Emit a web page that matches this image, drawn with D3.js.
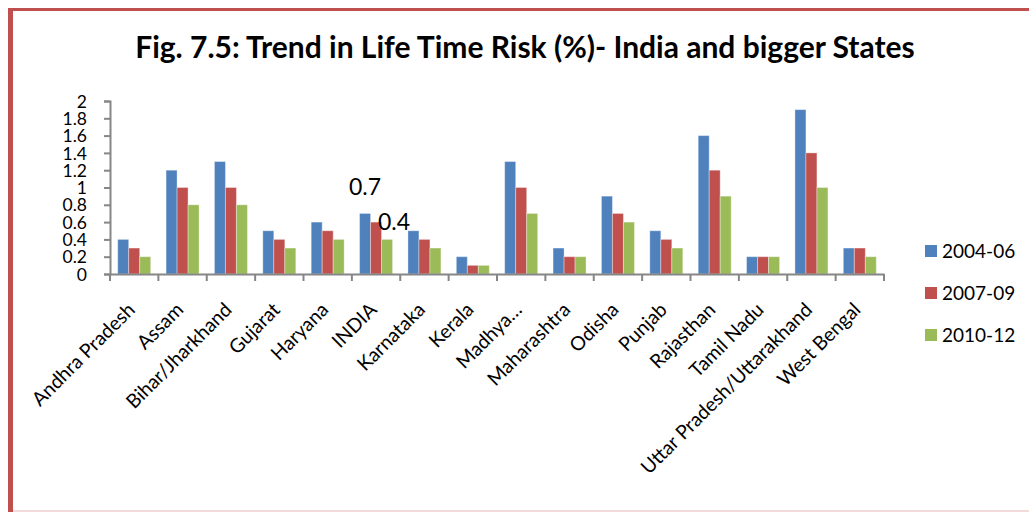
<!DOCTYPE html>
<html>
<head>
<meta charset="utf-8">
<script src="https://cdn.jsdelivr.net/npm/d3@7"></script>
<style>
  body { margin: 0; background: #fff; }
  text { font-family: Lato, "Open Sans", sans-serif; fill: #000; }
</style>
</head>
<body>
<script>
var w = 1029;
var h = 512;

var categories = ["Andhra Pradesh", "Assam", "Bihar/Jharkhand", "Gujarat", "Haryana", "INDIA",
  "Karnataka", "Kerala", "Madhya…", "Maharashtra", "Odisha", "Punjab", "Rajasthan",
  "Tamil Nadu", "Uttar Pradesh/Uttarakhand", "West Bengal"];
var seriesNames = ["2004-06", "2007-09", "2010-12"];
var s2004 = [0.4, 1.2, 1.3, 0.5, 0.6, 0.7, 0.5, 0.2, 1.3, 0.3, 0.9, 0.5, 1.6, 0.2, 1.9, 0.3];
var s2007 = [0.3, 1.0, 1.0, 0.4, 0.5, 0.6, 0.4, 0.1, 1.0, 0.2, 0.7, 0.4, 1.2, 0.2, 1.4, 0.3];
var s2010 = [0.2, 0.8, 0.8, 0.3, 0.4, 0.4, 0.3, 0.1, 0.7, 0.2, 0.6, 0.3, 0.9, 0.2, 1.0, 0.2];
var yTicks = [0, 0.2, 0.4, 0.6, 0.8, 1, 1.2, 1.4, 1.6, 1.8, 2];
// stray data labels on the INDIA group
var dataLabels = [{cat: "INDIA", series: 0, value: 0.7}, {cat: "INDIA", series: 2, value: 0.4}];

var colors = ["#4F81BD", "#C0504D", "#9BBB59"];
var allSeries = [s2004, s2007, s2010];

var svg = d3.select("body")
  .append("svg")
  .attr("width", w)
  .attr("height", h);

// frame
svg.append("rect").attr("x", 0).attr("y", 0).attr("width", w).attr("height", h).attr("fill", "#fff");
svg.append("line").attr("x1", 8).attr("x2", w).attr("y1", 9.5).attr("y2", 9.5)
  .attr("stroke", "#C0504D").attr("stroke-width", 3);
svg.append("line").attr("x1", 10.5).attr("x2", 10.5).attr("y1", 8).attr("y2", h)
  .attr("stroke", "#C0504D").attr("stroke-width", 5);
svg.append("line").attr("x1", 13).attr("x2", w).attr("y1", 511).attr("y2", 511)
  .attr("stroke", "#F2DCDB").attr("stroke-width", 2);

svg.append("text")
  .attr("x", 525)
  .attr("y", 58)
  .attr("text-anchor", "middle")
  .style("font-size", "30px")
  .style("font-weight", "bold")
  .text("Fig. 7.5: Trend in Life Time Risk (%)- India and bigger States");

var x = d3.scaleBand().domain(categories).range([110, 884]).paddingInner(0).paddingOuter(0);
var x1 = d3.scaleBand().domain(d3.range(3)).range([0, x.bandwidth()]).paddingInner(0).paddingOuter(0.7);
var y = d3.scaleLinear().domain([0, 2]).range([274, 101]);

var groups = svg.selectAll("g.grp")
  .data(categories)
  .enter()
  .append("g")
  .attr("class", "grp")
  .attr("transform", function(d) { return "translate(" + x(d) + ",0)"; });

groups.selectAll("rect")
  .data(function(d, i) { return allSeries.map(function(s, j) { return {s: j, v: s[i]}; }); })
  .enter()
  .append("rect")
  .attr("x", function(d) { return x1(d.s); })
  .attr("width", x1.bandwidth())
  .attr("y", function(d) { return y(d.v); })
  .attr("height", function(d) { return y(0) - y(d.v); })
  .attr("fill", function(d) { return colors[d.s]; })
  .attr("stroke", "#fff")
  .attr("stroke-opacity", 0.35)
  .attr("stroke-width", 1);

// y axis
var yAxis = svg.append("g")
  .attr("transform", "translate(110,0)")
  .call(d3.axisLeft(y).tickValues(yTicks).tickSize(6).tickPadding(17).tickFormat(d3.format("")));
yAxis.selectAll("text").style("font-size", "17.5px").attr("dy", "0.35em");

// x axis
var xAxis = svg.append("g")
  .attr("transform", "translate(0,274)")
  .call(d3.axisBottom(x).tickSize(0).tickFormat(""));
xAxis.selectAll(".tick").remove();
xAxis.selectAll("line.bound")
  .data(categories.concat([null]))
  .enter()
  .append("line")
  .attr("class", "bound")
  .attr("x1", function(d, i) { return 110 + i * x.step(); })
  .attr("x2", function(d, i) { return 110 + i * x.step(); })
  .attr("y1", 0)
  .attr("y2", 7);

svg.selectAll(".domain, .tick line, line.bound")
  .attr("stroke", "#868686")
  .attr("stroke-width", 2);

svg.selectAll("text.xlab")
  .data(categories)
  .enter()
  .append("text")
  .attr("class", "xlab")
  .attr("text-anchor", "end")
  .style("font-size", "19.5px")
  .attr("transform", function(d) {
    return "translate(" + (x(d) + x.bandwidth() / 2 + 2) + ",311) rotate(-45)";
  })
  .text(function(d) { return d; });

// data labels
svg.selectAll("text.dlab")
  .data(dataLabels)
  .enter()
  .append("text")
  .attr("class", "dlab")
  .attr("text-anchor", "middle")
  .style("font-size", "23px")
  .attr("x", function(d) { return x(d.cat) + x1(d.series) + x1.bandwidth() / 2 + (d.series == 2 ? 7 : 0); })
  .attr("y", function(d) { return y(d.value) - (d.series == 2 ? 9 : 18); })
  .text(function(d) { return d.value; });

// legend
var legend = svg.selectAll("g.leg")
  .data(seriesNames)
  .enter()
  .append("g")
  .attr("class", "leg")
  .attr("transform", function(d, i) { return "translate(925," + (251 + i * 42) + ")"; });
legend.append("rect")
  .attr("x", 0).attr("y", -6).attr("width", 12).attr("height", 12)
  .attr("fill", function(d, i) { return colors[i]; });
legend.append("text")
  .attr("x", 17)
  .attr("dy", "0.36em")
  .style("font-size", "19px")
  .text(function(d) { return d; });
</script>
</body>
</html>
